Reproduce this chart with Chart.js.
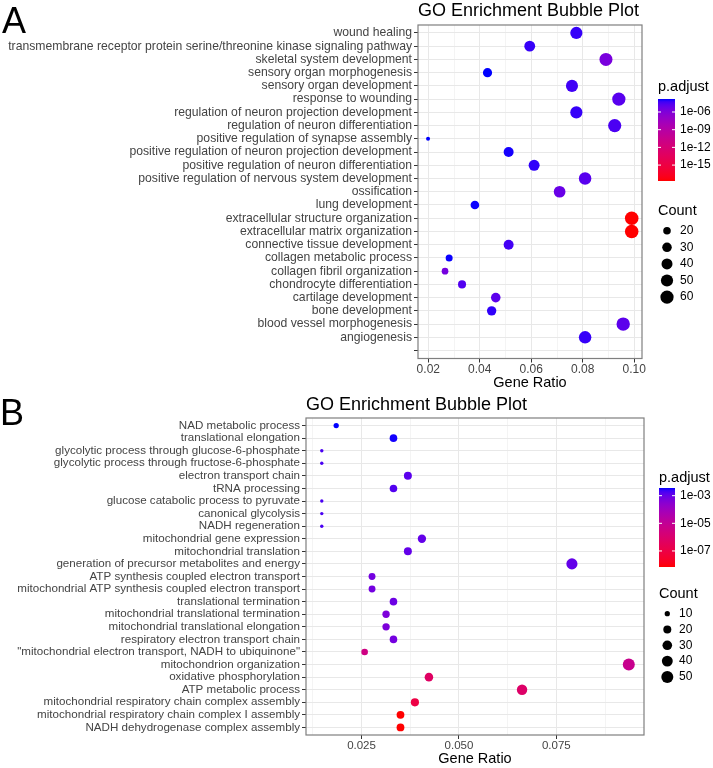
<!DOCTYPE html>
<html>
<head>
<meta charset="utf-8">
<script src="https://cdn.jsdelivr.net/npm/chart.js@4.4.1/dist/chart.umd.min.js"></script>
<style>
  body { margin: 0; background: #fff; }
  #wrap { position: relative; width: 713px; height: 768px; }
  canvas { position: absolute; left: 0; }
  #chartA { top: 0; }
  #chartB { top: 392px; }
</style>
</head>
<body>
<div id="wrap">
  <canvas id="chartA" width="713" height="392"></canvas>
  <canvas id="chartB" width="713" height="376"></canvas>
</div>
<script>
// ---- panel A data ----
const termsA = [
  'wound healing',
  'transmembrane receptor protein serine/threonine kinase signaling pathway',
  'skeletal system development',
  'sensory organ morphogenesis',
  'sensory organ development',
  'response to wounding',
  'regulation of neuron projection development',
  'regulation of neuron differentiation',
  'positive regulation of synapse assembly',
  'positive regulation of neuron projection development',
  'positive regulation of neuron differentiation',
  'positive regulation of nervous system development',
  'ossification',
  'lung development',
  'extracellular structure organization',
  'extracellular matrix organization',
  'connective tissue development',
  'collagen metabolic process',
  'collagen fibril organization',
  'chondrocyte differentiation',
  'cartilage development',
  'bone development',
  'blood vessel morphogenesis',
  'angiogenesis',
  '',
];
const ratioA = [0.0775, 0.0594, 0.0890, 0.0430, 0.0758, 0.0940, 0.0775, 0.0924, 0.0199, 0.0512, 0.0611, 0.0809,
  0.0710, 0.0381, 0.0990, 0.0990, 0.0512, 0.0281, 0.0265, 0.0331, 0.0462, 0.0446, 0.0957, 0.0809];
const countA = [50, 39, 58, 28, 49, 61, 50, 60, 13, 33, 40, 53, 46, 25, 64, 64, 33, 18, 17, 22, 30, 29, 62, 53];
const padjA = [7.1e-5, 7.1e-5, 1.8e-6, 1.6e-4, 5.1e-5, 1.7e-5, 7.1e-5, 3.2e-5, 1.6e-4, 1.35e-4, 8.3e-5, 1.7e-5,
  6.5e-6, 1.5e-4, 2.0e-18, 2.0e-18, 4.4e-5, 1.5e-4, 2.5e-6, 2.3e-5, 1.4e-5, 8.3e-5, 1.4e-5, 7.1e-5];
const xTicksA = [0.02, 0.04, 0.06, 0.08, 0.10];
const xTickLabelsA = ['0.02', '0.04', '0.06', '0.08', '0.10'];
const xMinorA = [0.03, 0.05, 0.07, 0.09];
const pTicksA = [1e-6, 1e-9, 1e-12, 1e-15];
const pTickLabelsA = ['1e-06', '1e-09', '1e-12', '1e-15'];
const countBreaksA = [20, 30, 40, 50, 60];

// ---- panel B data ----
const termsB = [
  'NAD metabolic process',
  'translational elongation',
  'glycolytic process through glucose-6-phosphate',
  'glycolytic process through fructose-6-phosphate',
  'electron transport chain',
  'tRNA processing',
  'glucose catabolic process to pyruvate',
  'canonical glycolysis',
  'NADH regeneration',
  'mitochondrial gene expression',
  'mitochondrial translation',
  'generation of precursor metabolites and energy',
  'ATP synthesis coupled electron transport',
  'mitochondrial ATP synthesis coupled electron transport',
  'translational termination',
  'mitochondrial translational termination',
  'mitochondrial translational elongation',
  'respiratory electron transport chain',
  '"mitochondrial electron transport, NADH to ubiquinone"',
  'mitochondrion organization',
  'oxidative phosphorylation',
  'ATP metabolic process',
  'mitochondrial respiratory chain complex assembly',
  'mitochondrial respiratory chain complex I assembly',
  'NADH dehydrogenase complex assembly',
];
const ratioB = [0.0185, 0.0332, 0.0148, 0.0148, 0.0369, 0.0332, 0.0148, 0.0148, 0.0148, 0.0405, 0.0369, 0.0790,
  0.0277, 0.0277, 0.0332, 0.0313, 0.0313, 0.0332, 0.0258, 0.0936, 0.0423, 0.0662, 0.0387, 0.0350, 0.0350];
const countB = [10, 18, 8, 8, 20, 18, 8, 8, 8, 22, 20, 42, 15, 15, 18, 17, 17, 18, 14, 50, 23, 36, 21, 19, 19];
const padjB = [3.6e-3, 3.4e-3, 1.9e-3, 1.9e-3, 1.35e-3, 1.65e-3, 1.9e-3, 1.9e-3, 1.9e-3, 1.1e-3, 1.1e-3, 1.1e-3,
  6.9e-4, 6.9e-4, 8.5e-4, 5.0e-4, 5.0e-4, 6.6e-4, 3.4e-6, 6.5e-6, 5.4e-7, 7.0e-7, 9.5e-8, 6.9e-9, 6.9e-9];
const xTicksB = [0.025, 0.05, 0.075];
const xTickLabelsB = ['0.025', '0.050', '0.075'];
const xMinorB = [0.0125, 0.0375, 0.0625, 0.0875];
const pTicksB = [1e-3, 1e-5, 1e-7];
const pTickLabelsB = ['1e-03', '1e-05', '1e-07'];
const countBreaksB = [10, 20, 30, 40, 50];

const FONT = "'Liberation Sans', Arial, sans-serif";

// red -> blue gradient interpolated in Lab, like ggplot's scale_colour_gradient
function toLin(c) {
  c /= 255;
  return c <= 0.04045 ? c / 12.92 : Math.pow((c + 0.055) / 1.055, 2.4);
}
function toSrgb(c) {
  c = c <= 0.0031308 ? 12.92 * c : 1.055 * Math.pow(c, 1 / 2.4) - 0.055;
  return Math.round(Math.min(1, Math.max(0, c)) * 255);
}
function rgbToLab(rgb) {
  const [r, g, b] = rgb.map(toLin);
  const f = (t) => (t > 0.008856 ? Math.cbrt(t) : 7.787 * t + 16 / 116);
  const fx = f((0.4124 * r + 0.3576 * g + 0.1805 * b) / 0.95047);
  const fy = f(0.2126 * r + 0.7152 * g + 0.0722 * b);
  const fz = f((0.0193 * r + 0.1192 * g + 0.9505 * b) / 1.08883);
  return [116 * fy - 16, 500 * (fx - fy), 200 * (fy - fz)];
}
function labToRgb([L, a, b]) {
  const fy = (L + 16) / 116;
  const fx = fy + a / 500;
  const fz = fy - b / 200;
  const inv = (t) => (t ** 3 > 0.008856 ? t ** 3 : (t - 16 / 116) / 7.787);
  const X = 0.95047 * inv(fx), Y = inv(fy), Z = 1.08883 * inv(fz);
  const r = 3.2406 * X - 1.5372 * Y - 0.4986 * Z;
  const g = -0.9689 * X + 1.8758 * Y + 0.0415 * Z;
  const bb = 0.0557 * X - 0.204 * Y + 1.057 * Z;
  return `rgb(${toSrgb(r)},${toSrgb(g)},${toSrgb(bb)})`;
}
const LOW = rgbToLab([255, 0, 0]);
const HIGH = rgbToLab([0, 0, 255]);
function gradient(t) {
  t = Math.min(1, Math.max(0, t));
  return labToRgb(LOW.map((v, i) => v + (HIGH[i] - v) * t));
}

function buildPanel(id, p) {
  const logs = p.padj.map((v) => Math.log10(v));
  const lo = Math.min(...logs);
  const hi = Math.max(...logs);
  const cMin = Math.min(...p.count);
  const cMax = Math.max(...p.count);
  const sizeOf = (c) => p.rMin + (p.rMax - p.rMin) * Math.sqrt((c - cMin) / (cMax - cMin));
  const colourOf = (v) => gradient((Math.log10(v) - lo) / (hi - lo));
  const points = p.ratio.map((x, i) => ({ x, y: i, count: p.count[i], padj: p.padj[i] }));
  const xAll = [...p.xTicks, ...p.xMinor].sort((a, b) => a - b);
  const isMinor = (c) => !!(c && c.tick && p.xMinor.includes(c.tick.value));

  const extras = {
    id: 'ggExtras',
    afterDraw(chart) {
      const ctx = chart.ctx;
      const a = chart.chartArea;
      const L = p.legend;
      ctx.save();
      ctx.strokeStyle = '#7f7f7f';
      ctx.lineWidth = 1.2;
      ctx.strokeRect(a.left, a.top, a.right - a.left, a.bottom - a.top);

      ctx.fillStyle = '#000';
      ctx.textAlign = 'left';
      ctx.textBaseline = 'alphabetic';
      ctx.font = `36px ${FONT}`;
      ctx.fillText(p.letter, p.letterX, 33);

      // p.adjust colourbar
      ctx.textBaseline = 'middle';
      ctx.font = `14.5px ${FONT}`;
      ctx.fillText('p.adjust', L.x, L.pTitleY);
      const grad = ctx.createLinearGradient(0, L.barTop, 0, L.barBottom);
      for (let k = 0; k <= 30; k++) grad.addColorStop(k / 30, gradient(1 - k / 30));
      ctx.fillStyle = grad;
      ctx.fillRect(L.x, L.barTop, L.barW, L.barBottom - L.barTop);
      ctx.font = `12px ${FONT}`;
      p.pTicks.forEach((v, i) => {
        const y = L.barBottom - ((Math.log10(v) - lo) / (hi - lo)) * (L.barBottom - L.barTop);
        ctx.strokeStyle = '#fff';
        ctx.lineWidth = 1;
        ctx.beginPath();
        ctx.moveTo(L.x, y);
        ctx.lineTo(L.x + 3, y);
        ctx.moveTo(L.x + L.barW - 3, y);
        ctx.lineTo(L.x + L.barW, y);
        ctx.stroke();
        ctx.fillStyle = '#000';
        ctx.fillText(p.pTickLabels[i], L.x + L.barW + 5, y);
      });

      // Count size legend
      ctx.font = `14.5px ${FONT}`;
      ctx.fillText('Count', L.x, L.cTitleY);
      ctx.font = `12px ${FONT}`;
      p.countBreaks.forEach((c, i) => {
        const y = L.keyY0 + i * L.keyStep;
        ctx.beginPath();
        ctx.arc(L.keyX, y, sizeOf(c), 0, Math.PI * 2);
        ctx.fill();
        ctx.fillText(String(c), L.labelX, y);
      });
      ctx.restore();
    },
  };

  return new Chart(document.getElementById(id), {
    type: 'bubble',
    data: {
      datasets: [{
        data: points,
        backgroundColor: (c) => colourOf(c.raw.padj),
        radius: (c) => sizeOf(c.raw.count),
        borderWidth: 0,
        hoverRadius: 0,
      }],
    },
    options: {
      responsive: false,
      animation: false,
      events: [],
      layout: { padding: { left: 0, right: p.padRight, top: 0, bottom: 0 } },
      scales: {
        x: {
          type: 'linear',
          min: p.xMin,
          max: p.xMax,
          afterBuildTicks: (s) => { s.ticks = xAll.map((v) => ({ value: v })); },
          afterFit: (s) => { s.height = p.xAxisH; },
          ticks: {
            autoSkip: false,
            maxRotation: 0,
            padding: 0,
            color: '#444',
            font: { family: FONT, size: p.tickSize },
            callback: (v) => {
              const i = p.xTicks.indexOf(v);
              return i < 0 ? '' : p.xTickLabels[i];
            },
          },
          grid: {
            color: (c) => (isMinor(c) ? '#F4F4F4' : '#E8E8E8'),
            lineWidth: 1,
            tickLength: 4,
            tickColor: (c) => (isMinor(c) ? 'rgba(0,0,0,0)' : '#333'),
          },
          border: { display: false },
          title: {
            display: true,
            text: 'Gene Ratio',
            color: '#000',
            font: { family: FONT, size: 14.5 },
            padding: 0,
          },
        },
        y: {
          type: 'linear',
          reverse: true,
          min: -0.6,
          max: p.terms.length - 0.4,
          afterBuildTicks: (s) => { s.ticks = p.terms.map((_, i) => ({ value: i })); },
          afterFit: (s) => { s.width = p.plotLeft; },
          ticks: {
            autoSkip: false,
            padding: 2,
            color: '#444',
            font: { family: FONT, size: p.labelSize },
            callback: (v) => p.terms[v],
          },
          grid: { color: '#E8E8E8', lineWidth: 1, tickLength: 4, tickColor: '#333' },
          border: { display: false },
        },
      },
      plugins: {
        legend: { display: false },
        tooltip: { enabled: false },
        title: {
          display: true,
          text: 'GO Enrichment Bubble Plot',
          align: 'start',
          fullSize: false,
          color: '#000',
          font: { family: FONT, size: 18, weight: 'normal' },
          padding: { top: p.titlePadTop, bottom: p.titlePadBottom },
        },
      },
    },
    plugins: [extras],
  });
}

buildPanel('chartA', {
  letter: 'A', letterX: 2,
  terms: termsA, ratio: ratioA, count: countA, padj: padjA,
  xMin: 0.016, xMax: 0.103,
  xTicks: xTicksA, xTickLabels: xTickLabelsA, xMinor: xMinorA,
  pTicks: pTicksA, pTickLabels: pTickLabelsA, countBreaks: countBreaksA,
  rMin: 2, rMax: 6.8,
  plotLeft: 418, padRight: 71, xAxisH: 33.5,
  titlePadTop: 0, titlePadBottom: 3.4,
  labelSize: 12.2, tickSize: 12,
  legend: { x: 658, pTitleY: 87, barTop: 99, barBottom: 181, barW: 17,
    cTitleY: 210.7, keyX: 667, keyY0: 230.7, keyStep: 16.6, labelX: 680 },
});

buildPanel('chartB', {
  letter: 'B', letterX: 0,
  terms: termsB, ratio: ratioB, count: countB, padj: padjB,
  xMin: 0.01075, xMax: 0.0975,
  xTicks: xTicksB, xTickLabels: xTickLabelsB, xMinor: xMinorB,
  pTicks: pTicksB, pTickLabels: pTickLabelsB, countBreaks: countBreaksB,
  rMin: 1.7, rMax: 6.0,
  plotLeft: 306, padRight: 69, xAxisH: 33,
  titlePadTop: 2, titlePadBottom: 2.4,
  labelSize: 11.6, tickSize: 11.5,
  legend: { x: 659, pTitleY: 85.7, barTop: 96, barBottom: 175, barW: 16,
    cTitleY: 202.3, keyX: 667.3, keyY0: 221.7, keyStep: 15.8, labelX: 679 },
});
</script>
</body>
</html>
